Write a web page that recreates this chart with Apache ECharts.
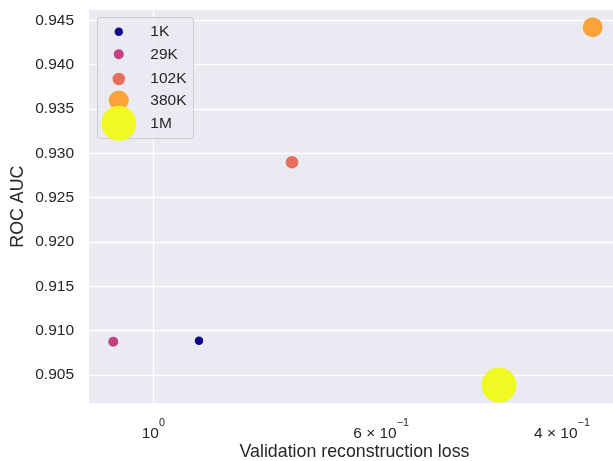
<!DOCTYPE html>
<html>
<head>
<meta charset="utf-8">
<script src="https://cdn.jsdelivr.net/npm/echarts@6/dist/echarts.min.js"></script>
<style>
  html, body { margin: 0; padding: 0; background: #ffffff; }
  #chart { width: 613px; height: 461px; }
</style>
</head>
<body>
<div id="chart"></div>
<script>
// Model sizes (parameter counts) and their scores
const categories = ['1K', '29K', '102K', '380K', '1M'];
const valLoss = [0.9026, 1.0938, 0.7327, 0.3734, 0.4606];
const rocAuc = [0.90887, 0.90876, 0.92899, 0.94421, 0.90387];

// Axis ticks
const yTicks = [0.905, 0.910, 0.915, 0.920, 0.925, 0.930, 0.935, 0.940, 0.945];
const xTicks = [1, 0.6, 0.4];
const xTickLabels = ['{b|10}{s|0}', '{b|6 \u00d7 10}{s|\u22121}', '{b|4 \u00d7 10}{s|\u22121}'];

// Styling
const colors = ['#0d0887', '#c53f83', '#e76e5b', '#fba238', '#f0f921'];
const markerSizes = [8.5, 10, 12.5, 20, 35];
const legendCenters = [31.7, 54.3, 79, 100.5, 123.3];
const legendIconX = 118.8;
const FONT = '"Liberation Sans", Arial, sans-serif';
const TEXT = '#262626';
const TICK_FS = 15.5;
const TITLE_FS = 17.8;

const chart = echarts.init(document.getElementById('chart'), null, { renderer: 'canvas' });

const series = categories.map((name, i) => ({
  name: name,
  type: 'scatter',
  data: [[valLoss[i], rocAuc[i]]],
  symbol: 'circle',
  symbolSize: markerSizes[i],
  itemStyle: { color: colors[i], opacity: 1 },
  z: 3,
  silent: true
}));

// Gridline at the major decade plus the tick labels along the log axis
series.push({
  name: '_ticks',
  type: 'scatter',
  data: [],
  silent: true,
  markLine: {
    silent: true,
    symbol: 'none',
    animation: false,
    z: 1,
    data: xTicks.map((v, i) => ({
      xAxis: v,
      lineStyle: { color: i === 0 ? '#ffffff' : 'rgba(0,0,0,0)', width: 1.33, type: 'solid' },
      label: {
        show: true,
        position: 'start',
        distance: 14,
        formatter: xTickLabels[i],
        rich: {
          // tall base token pushes the mantissa down, the exponent sits at the line top
          b: { fontSize: TICK_FS, fontFamily: FONT, color: TEXT, lineHeight: 24, verticalAlign: 'bottom' },
          s: { fontSize: 10.8, fontFamily: FONT, color: TEXT, lineHeight: 12, verticalAlign: 'top' }
        }
      },
      emphasis: { disabled: true }
    }))
  }
});

const legends = categories.map((name, i) => {
  const h = markerSizes[i];
  return {
    data: [name],
    left: legendIconX - h / 2,
    top: legendCenters[i] - Math.max(h, 18) / 2,
    padding: 0,
    orient: 'vertical',
    icon: 'circle',
    itemWidth: 53,
    itemHeight: h,
    selectedMode: false,
    z: 8,
    textStyle: { fontSize: TICK_FS, fontFamily: FONT, color: TEXT, lineHeight: 18 }
  };
});

chart.setOption({
  animation: false,
  backgroundColor: '#ffffff',
  grid: {
    left: 89, width: 531, top: 10, height: 393.3,
    outerBoundsMode: 'none',
    show: true, backgroundColor: '#eaeaf2', borderWidth: 0, containLabel: false
  },
  xAxis: {
    type: 'log',
    logBase: 10,
    inverse: true,
    min: 0.3512,
    max: 1.155,
    name: 'Validation reconstruction loss',
    nameLocation: 'middle',
    nameGap: 40,
    nameMoveOverlap: false,
    nameTextStyle: { fontSize: TITLE_FS, fontFamily: FONT, color: TEXT },
    axisLine: { show: false },
    axisTick: { show: false },
    axisLabel: { show: false },
    splitLine: { show: false },
    minorTick: { show: false },
    minorSplitLine: { show: false }
  },
  yAxis: {
    type: 'value',
    min: 0.90181,
    max: 0.94616,
    name: 'ROC AUC',
    nameLocation: 'middle',
    nameGap: 62,
    nameMoveOverlap: false,
    nameTextStyle: { fontSize: TITLE_FS, fontFamily: FONT, color: TEXT },
    axisLine: { show: false },
    axisTick: { show: false, customValues: yTicks },
    axisLabel: {
      customValues: yTicks,
      formatter: v => v.toFixed(3),
      fontSize: TICK_FS, fontFamily: FONT, color: TEXT, margin: 15
    },
    splitLine: { show: true, lineStyle: { color: '#ffffff', width: 1.33 } }
  },
  legend: legends,
  graphic: [{
    type: 'rect',
    z: 6,
    silent: true,
    shape: { x: 97.5, y: 17.5, width: 96, height: 121, r: 3 },
    style: { fill: 'rgba(234,234,242,0.8)', stroke: '#cccccc', lineWidth: 1 }
  }],
  series: series
});
</script>
</body>
</html>
